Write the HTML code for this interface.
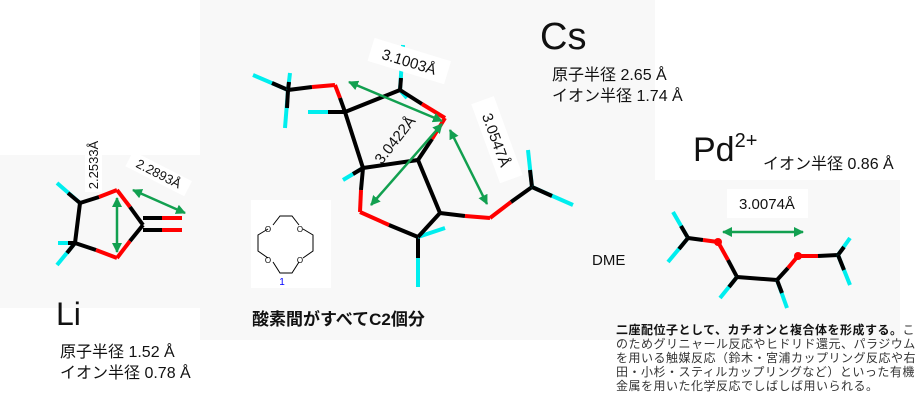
<!DOCTYPE html>
<html><head><meta charset="utf-8"><style>
body{margin:0;width:919px;height:404px;background:#fff;overflow:hidden;position:relative;font-family:"Liberation Sans","Noto Sans CJK JP",sans-serif;}
.t{position:absolute;white-space:nowrap;color:#111;}
</style></head><body>
<div style="position:absolute;left:0;top:155px;width:200px;height:153px;background:#f8f8f8"></div>
<div style="position:absolute;left:200px;top:0;width:455px;height:340px;background:#f8f8f8"></div>
<div style="position:absolute;left:655px;top:180px;width:245px;height:160px;background:#f8f8f8"></div>
<div style="position:absolute;left:251px;top:200px;width:80px;height:88px;background:#fff"></div>
<svg style="position:absolute;left:0;top:0" width="919" height="404" stroke-linecap="butt">
<defs><marker id="a" viewBox="0 0 10 10" refX="9" refY="5" markerWidth="4" markerHeight="4" orient="auto-start-reverse"><path d="M0,0L10,5L0,10z" fill="#12a050"/></marker></defs>
<g stroke-width="4">
<path d="M80,203L57,183" stroke="#0ee"/><path d="M80,203L68,193" stroke="#000"/>
<path d="M75,243L57,265" stroke="#0ee"/><path d="M75,243L67,253" stroke="#000"/>
<path d="M75,243L58,243" stroke="#0ee"/><path d="M75,243L68,243" stroke="#000"/>
<path d="M80,203L75,243" stroke="#000"/>
<path d="M80,203L99,197" stroke="#000"/><path d="M99,197L117,190" stroke="#f00"/>
<path d="M75,243L96,250" stroke="#000"/><path d="M96,250L117,258" stroke="#f00"/>
<path d="M117,190L130,207" stroke="#f00"/><path d="M130,207L143,225" stroke="#000"/>
<path d="M117,258L130,241" stroke="#f00"/><path d="M130,241L143,225" stroke="#000"/>
<path d="M143,218L162,218" stroke="#000"/><path d="M162,218L182,218" stroke="#f00"/>
<path d="M143,230L162,230" stroke="#000"/><path d="M162,230L182,230" stroke="#f00"/>
<path d="M288,90L253,75" stroke="#0ee"/><path d="M288,90L272,83" stroke="#000"/>
<path d="M288,90L290,73" stroke="#0ee"/><path d="M288,90L289,82" stroke="#000"/>
<path d="M288,90L285,128" stroke="#0ee"/><path d="M288,90L287,108" stroke="#000"/>
<path d="M288,90L312,87" stroke="#000"/><path d="M312,87L335,85" stroke="#f00"/>
<path d="M335,85L340,98" stroke="#f00"/><path d="M340,98L345,112" stroke="#000"/>
<path d="M345,112L308,112" stroke="#0ee"/><path d="M345,112L328,112" stroke="#000"/>
<path d="M400,90L403,45" stroke="#0ee"/><path d="M400,90L401,78" stroke="#000"/>
<path d="M400,90L407,98" stroke="#0ee"/>
<path d="M345,112L400,90" stroke="#000"/>
<path d="M400,90L422,104" stroke="#000"/><path d="M422,104L445,118" stroke="#f00"/>
<path d="M445,118L432,139" stroke="#f00"/><path d="M432,139L418,160" stroke="#000"/>
<path d="M363,168L343,180" stroke="#0ee"/><path d="M363,168L353,174" stroke="#000"/>
<path d="M345,112L363,168L418,160" stroke="#000" fill="none"/>
<path d="M363,168L361,190" stroke="#000"/><path d="M361,190L360,212" stroke="#f00"/>
<path d="M360,212L389,225" stroke="#f00"/><path d="M389,225L418,237" stroke="#000"/>
<path d="M418,237L418,287" stroke="#0ee"/><path d="M418,237L418,258" stroke="#000"/>
<path d="M418,237L445,228" stroke="#0ee"/>
<path d="M418,237L440,213L418,160" stroke="#000" fill="none"/>
<path d="M440,213L465,216" stroke="#000"/><path d="M465,216L490,218" stroke="#f00"/>
<path d="M490,218L511,202" stroke="#f00"/><path d="M511,202L532,187" stroke="#000"/>
<path d="M532,187L528,150" stroke="#0ee"/><path d="M532,187L530,170" stroke="#000"/>
<path d="M532,187L573,205" stroke="#0ee"/><path d="M532,187L552,196" stroke="#000"/>
<path d="M688,238L673,212" stroke="#0ee"/><path d="M688,238L681,226" stroke="#000"/>
<path d="M688,238L668,262" stroke="#0ee"/><path d="M688,238L679,249" stroke="#000"/>
<path d="M688,238L703,240" stroke="#000"/><path d="M703,240L718,242" stroke="#f00"/>
<path d="M718,242L728,260" stroke="#f00"/><path d="M728,260L737,277" stroke="#000"/>
<path d="M737,277L720,298" stroke="#0ee"/><path d="M737,277L729,287" stroke="#000"/>
<path d="M737,277L777,280" stroke="#000"/>
<path d="M777,280L787,308" stroke="#0ee"/><path d="M777,280L782,293" stroke="#000"/>
<path d="M777,280L788,268" stroke="#000"/><path d="M788,268L798,256" stroke="#f00"/>
<path d="M798,256L818,256" stroke="#f00"/><path d="M818,256L838,255" stroke="#000"/>
<path d="M838,255L850,238" stroke="#0ee"/><path d="M838,255L844,247" stroke="#000"/>
<path d="M838,255L850,285" stroke="#0ee"/><path d="M838,255L844,270" stroke="#000"/>
</g>
<circle cx="718" cy="242" r="4" fill="#f00"/><circle cx="798" cy="256" r="4" fill="#f00"/>
<g stroke="#12a050" stroke-width="2.5" marker-start="url(#a)" marker-end="url(#a)">
<path d="M117,198L117,252"/><path d="M133,190L185,213"/>
<path d="M349,82L442,121"/><path d="M442,124L371,205"/><path d="M450,130L487,204"/>
<path d="M723,232L803,232"/>
</g>
<g font-family="Liberation Sans,sans-serif" font-size="13" fill="#111">
<g transform="translate(95,165) rotate(-90)"><rect x="-27" y="-10" width="54" height="17" fill="#fff"/><text text-anchor="middle" y="3">2.2533Å</text></g>
<g transform="translate(158,175) rotate(27)"><rect x="-33" y="-10" width="66" height="17" fill="#fff"/><text text-anchor="middle" y="3">2.2893Å</text></g>
<g transform="translate(409,62) rotate(17)"><rect x="-40" y="-13" width="80" height="24" fill="#fff"/><text text-anchor="middle" y="5" font-size="15">3.1003Å</text></g>
<g transform="translate(395,140) rotate(-52)"><text text-anchor="middle" y="5" font-size="15">3.0422Å</text></g>
<g transform="translate(496,140) rotate(70)"><rect x="-42" y="-13" width="84" height="24" fill="#fff"/><text text-anchor="middle" y="5" font-size="15">3.0547Å</text></g>
<rect x="727" y="189" width="81" height="29" fill="#fff"/><text x="767" y="209" text-anchor="middle" font-size="15">3.0074Å</text>
</g>
<g stroke="#000" stroke-width="1" fill="none">
<path d="M273,225L280,216L292,216L299,225"/>
<path d="M303,229L313,235L313,251L303,258"/>
<path d="M299,262L292,273L280,273L273,262"/>
<path d="M268,258L258,251L258,235L268,229"/>
</g>
<g font-family="Liberation Sans,sans-serif" font-size="8" text-anchor="middle">
<text x="268" y="232">O</text><text x="300" y="232">O</text><text x="268" y="263">O</text><text x="300" y="263">O</text>
<text x="282" y="285" fill="#00f" font-size="10">1</text>
</g>
</svg>
<div class="t" style="left:56px;top:296px;font-size:32px;">Li</div>
<div class="t" style="left:60px;top:342px;font-size:16px;line-height:21px;">原子半径 1.52 Å<br>イオン半径 0.78 Å</div>
<div class="t" style="left:540px;top:16px;font-size:38px;">Cs</div>
<div class="t" style="left:552px;top:65px;font-size:16px;line-height:21px;">原子半径 2.65 Å<br>イオン半径 1.74 Å</div>
<div class="t" style="left:693px;top:130px;font-size:34px;">Pd<sup style="font-size:20px;vertical-align:14px">2+</sup></div>
<div class="t" style="left:763px;top:150px;font-size:16px;">イオン半径 0.86 Å</div>
<div class="t" style="left:592px;top:252px;font-size:15px;">DME</div>
<div class="t" style="left:252px;top:305px;font-size:17px;font-weight:bold;">酸素間がすべてC2個分</div>
<div class="t" style="left:616px;top:323px;font-size:12px;line-height:14px;letter-spacing:0.5px;color:#333;"><b style="color:#111">二座配位子として、カチオンと複合体を形成する。</b>こ<br>のためグリニャール反応やヒドリド還元、パラジウム<br>を用いる触媒反応（鈴木・宮浦カップリング反応や右<br>田・小杉・スティルカップリングなど）といった有機<br>金属を用いた化学反応でしばしば用いられる。</div>
</body></html>
